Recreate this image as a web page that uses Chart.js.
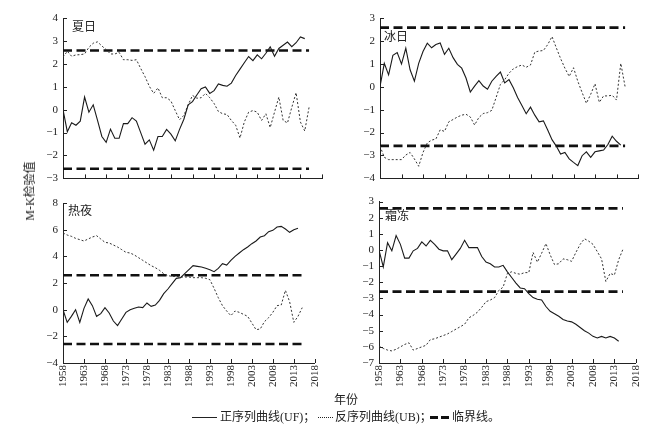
<!DOCTYPE html>
<html>
<head>
<meta charset="utf-8">
<script src="https://cdn.jsdelivr.net/npm/chart.js@4.4.1/dist/chart.umd.min.js"></script>
<style>
  html, body { margin:0; padding:0; background:#fff; }
  body { width:651px; height:432px; position:relative; overflow:hidden;
         font-family:'Liberation Serif','Noto Sans CJK SC',serif; color:#222; }
  canvas { position:absolute; }
  .lbl { position:absolute; font-size:12px; line-height:12px; white-space:nowrap; }
  .samp { position:absolute; height:0; }
</style>
</head>
<body>
<canvas id="tl" width="330" height="190" style="left:0;top:0"></canvas>
<canvas id="tr" width="321" height="190" style="left:330px;top:0"></canvas>
<canvas id="bl" width="330" height="242" style="left:0;top:190px"></canvas>
<canvas id="br" width="321" height="242" style="left:330px;top:190px"></canvas>

<div class="lbl" style="left:72px;top:21px">夏日</div>
<div class="lbl" style="left:384px;top:31px">冰日</div>
<div class="lbl" style="left:68px;top:205px">热夜</div>
<div class="lbl" style="left:385px;top:210px">霜冻</div>

<div class="lbl" style="left:30px;top:191px;transform:translate(-50%,-50%) rotate(-90deg);">M-K检验值</div>
<div class="lbl" style="left:346px;top:400px;transform:translate(-50%,-50%);">年份</div>

<div class="samp" style="left:192px;top:417px;width:25px;border-top:1px solid #222"></div>
<div class="lbl" style="left:220px;top:411px">正序列曲线(UF)；</div>
<div class="samp" style="left:318px;top:417px;width:15px;border-top:1px dotted #222"></div>
<div class="lbl" style="left:335px;top:411px">反序列曲线(UB)；</div>
<div class="samp" style="left:430px;top:416px;width:8px;border-top:3px solid #111"></div>
<div class="samp" style="left:441px;top:416px;width:8px;border-top:3px solid #111"></div>
<div class="lbl" style="left:452px;top:411px">临界线。</div>

<script>
// ---- data ----
const yearsUF = [1958,1959,1960,1961,1962,1963,1964,1965,1966,1967,1968,1969,1970,1971,1972,1973,1974,1975,1976,1977,1978,1979,1980,1981,1982,1983,1984,1985,1986,1987,1988,1989,1990,1991,1992,1993,1994,1995,1996,1997,1998,1999,2000,2001,2002,2003,2004,2005,2006,2007,2008,2009,2010,2011,2012,2013,2014];
const yearsUB = [1958,1959,1960,1961,1962,1963,1964,1965,1966,1967,1968,1969,1970,1971,1972,1973,1974,1975,1976,1977,1978,1979,1980,1981,1982,1983,1984,1985,1986,1987,1988,1989,1990,1991,1992,1993,1994,1995,1996,1997,1998,1999,2000,2001,2002,2003,2004,2005,2006,2007,2008,2009,2010,2011,2012,2013,2014,2015];
const tickYears = [1958,1963,1968,1973,1978,1983,1988,1993,1998,2003,2008,2013,2018];
const critLevels = [2.58, -2.58];
const critSpan = [1958, 2015];

// 夏日
const summerUF = [0,-0.96,-0.57,-0.68,-0.5,0.55,-0.11,0.21,-0.47,-1.17,-1.43,-0.85,-1.25,-1.25,-0.61,-0.61,-0.35,-0.5,-1.0,-1.51,-1.32,-1.77,-1.17,-1.17,-0.86,-1.07,-1.36,-0.86,-0.42,0.21,0.35,0.64,0.91,0.99,0.71,0.83,1.12,1.06,1.02,1.16,1.49,1.77,2.05,2.32,2.14,2.39,2.22,2.46,2.74,2.33,2.67,2.81,2.95,2.75,2.92,3.17,3.1];
const summerUB = [2.29,2.55,2.33,2.39,2.4,2.43,2.72,2.9,2.96,2.78,2.62,2.43,2.43,2.5,2.18,2.18,2.15,2.18,1.8,1.44,1.02,0.71,0.95,0.52,0.52,0.38,-0.04,-0.44,-0.25,0.21,0.62,0.5,0.52,0.71,0.52,0.27,-0.08,-0.18,-0.21,-0.47,-0.68,-1.24,-0.54,-0.11,-0.04,-0.11,-0.47,-0.18,-0.78,-0.11,0.55,-0.47,-0.58,0.1,0.74,-0.54,-0.93,0.1];
// 冰日
const iceUF = [0,1.02,0.52,1.37,1.49,0.99,1.68,0.74,0.24,1.02,1.54,1.9,1.7,1.84,1.91,1.41,1.68,1.27,0.98,0.81,0.38,-0.23,0.03,0.27,0.03,-0.11,0.24,0.45,0.64,0.17,0.31,-0.04,-0.47,-0.82,-1.18,-0.89,-1.24,-1.53,-1.49,-1.89,-2.31,-2.59,-2.94,-2.87,-3.15,-3.3,-3.44,-3.01,-2.84,-3.08,-2.84,-2.8,-2.76,-2.52,-2.16,-2.38,-2.55];
const iceUB = [-2.59,-3.08,-3.18,-3.18,-3.18,-3.18,-2.98,-2.87,-3.15,-3.47,-2.87,-2.45,-2.33,-2.28,-1.88,-1.95,-1.53,-1.43,-1.32,-1.24,-1.2,-1.32,-1.67,-1.34,-1.17,-1.13,-1.03,-0.47,0.1,0.31,0.59,0.78,0.88,0.95,0.85,0.95,1.51,1.56,1.58,1.84,2.19,1.7,1.23,0.81,0.45,0.83,0.24,-0.25,-0.72,-0.33,0.13,-0.68,-0.4,-0.4,-0.37,-0.58,1.02,0];
// 热夜
const nightUF = [0,-0.95,-0.5,0,-0.95,0.1,0.8,0.3,-0.5,-0.3,0.15,-0.25,-0.85,-1.2,-0.7,-0.2,0,0.1,0.2,0.15,0.5,0.25,0.35,0.7,1.2,1.55,1.95,2.35,2.4,2.7,3.0,3.3,3.25,3.2,3.1,3.0,2.85,3.1,3.45,3.35,3.7,4.0,4.25,4.5,4.7,4.95,5.15,5.45,5.55,5.85,5.95,6.2,6.25,6.05,5.8,6.0,6.1];
const nightUB = [5.75,5.6,5.5,5.35,5.25,5.15,5.3,5.45,5.55,5.3,5.05,5.0,4.85,4.7,4.5,4.3,4.25,4.1,3.9,3.7,3.5,3.3,3.15,2.95,2.7,2.55,2.5,2.5,2.45,2.45,2.45,2.4,2.4,2.4,2.35,2.25,1.6,0.9,0.3,-0.1,-0.45,-0.1,-0.2,-0.35,-0.5,-1.0,-1.5,-1.45,-0.9,-0.6,-0.2,0.3,0.35,1.45,0.6,-0.95,-0.5,0.15];
// 霜冻
const frostUF = [0,-1.05,0.45,-0.05,0.9,0.35,-0.5,-0.5,-0.05,0.1,0.5,0.25,0.6,0.35,0.05,-0.05,-0.05,-0.6,-0.25,0.1,0.6,0.15,0.15,0.15,-0.4,-0.75,-0.85,-1.05,-1.05,-0.95,-1.35,-1.7,-2.05,-2.35,-2.4,-2.7,-2.95,-3.05,-3.1,-3.5,-3.8,-3.95,-4.1,-4.3,-4.4,-4.45,-4.6,-4.8,-5.0,-5.15,-5.35,-5.45,-5.35,-5.45,-5.35,-5.45,-5.65];
const frostUB = [-5.95,-6.1,-6.2,-6.25,-6.15,-6.0,-5.85,-5.75,-6.2,-6.1,-6.0,-5.9,-5.55,-5.5,-5.4,-5.3,-5.2,-5.05,-4.9,-4.75,-4.6,-4.2,-4.05,-3.85,-3.55,-3.2,-3.1,-2.95,-2.5,-2.3,-1.45,-1.35,-1.45,-1.5,-1.4,-1.4,-0.15,-0.75,-0.2,0.4,-0.3,-0.9,-0.85,-0.55,-0.6,-0.7,-0.15,0.35,0.7,0.55,0.35,-0.1,-0.55,-1.95,-1.45,-1.55,-0.6,0.05];

// ---- drawing ----
Chart.defaults.font.family = "'Liberation Serif','Times New Roman',serif";
Chart.defaults.font.size = 11;
Chart.defaults.color = '#222';

const inwardTicks = {
  id: 'inwardTicks',
  afterDraw(chart) {
    const ctx = chart.ctx, xs = chart.scales.x, ys = chart.scales.y;
    const {left, bottom} = chart.chartArea;
    ctx.save();
    ctx.strokeStyle = '#222';
    ctx.lineWidth = 1;
    ctx.beginPath();
    xs.ticks.forEach(t => { const p = Math.round(xs.getPixelForValue(t.value)) + 0.5; ctx.moveTo(p, bottom); ctx.lineTo(p, bottom - 4); });
    ys.ticks.forEach(t => { const p = Math.round(ys.getPixelForValue(t.value)) + 0.5; ctx.moveTo(left, p); ctx.lineTo(left + 4, p); });
    ctx.stroke();
    ctx.restore();
  }
};

const pts = (xs, ys) => ys.map((v, i) => ({x: xs[i], y: v}));
const fmt = v => (v < 0 ? '\u2212' + Math.abs(v) : String(v));

function panel(id, uf, ub, yMin, yMax, yStep, showX, yW, pad) {
  const crit = critLevels.map(c => ({
    data: critSpan.map(x => ({x, y: c})),
    borderColor: '#111', borderWidth: 2.6, borderDash: [9, 4.5], pointRadius: 0
  }));
  new Chart(document.getElementById(id), {
    type: 'line',
    data: {
      datasets: [
        { data: pts(yearsUF, uf), borderColor: '#1a1a1a', borderWidth: 1.1, pointRadius: 0, tension: 0 },
        { data: pts(yearsUB, ub), borderColor: '#333', borderWidth: 1, borderDash: [2, 2], pointRadius: 0, tension: 0 },
        ...crit
      ]
    },
    options: {
      responsive: false, animation: false, devicePixelRatio: 1,
      layout: { padding: pad },
      plugins: { legend: { display: false }, tooltip: { enabled: false } },
      scales: {
        x: {
          type: 'linear', min: 1958, max: 2018,
          afterBuildTicks: s => { s.ticks = tickYears.map(v => ({value: v})); },
          afterFit: s => { s.height = showX ? 30 : 3; },
          grid: { display: false, drawTicks: false },
          border: { display: true, color: '#222', width: 1 },
          ticks: { display: showX, autoSkip: false, minRotation: 90, maxRotation: 90, padding: 2,
                   callback: v => String(v) }
        },
        y: {
          type: 'linear', min: yMin, max: yMax,
          afterFit: s => { s.width = yW; },
          grid: { display: false, drawTicks: false },
          border: { display: true, color: '#222', width: 1 },
          ticks: { stepSize: yStep, autoSkip: false, padding: 5, callback: fmt }
        }
      }
    },
    plugins: [inwardTicks]
  });
}

panel('tl', summerUF, summerUB, -3, 4, 1, false, 63, {left: 0, top: 18, right: 8, bottom: 4});
panel('tr', iceUF, iceUB, -4, 3, 1, false, 50, {left: 0, top: 18, right: 13, bottom: 4});
panel('bl', nightUF, nightUB, -4, 8, 2, true, 63, {left: 0, top: 13, right: 8, bottom: 39});
panel('br', frostUF, frostUB, -7, 3, 1, true, 49, {left: 0, top: 7, right: 13, bottom: 39});
</script>
</body>
</html>
